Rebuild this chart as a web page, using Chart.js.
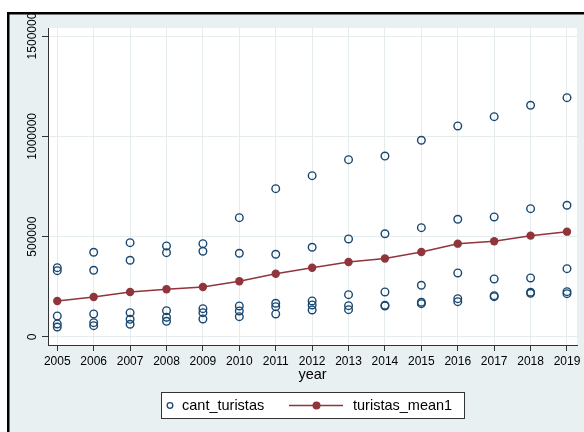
<!DOCTYPE html>
<html>
<head>
<meta charset="utf-8">
<style>
  html, body { margin: 0; padding: 0; background: #ffffff; }
  #wrap { width: 584px; height: 432px; }
</style>
<script src="https://cdn.jsdelivr.net/npm/chart.js@4/dist/chart.umd.min.js"></script>
</head>
<body>
<div id="wrap"><canvas id="c" width="584" height="432"></canvas></div>
<script>
// Tourist arrivals per year, five observations per year plus the yearly mean
const years = [2005, 2006, 2007, 2008, 2009, 2010, 2011, 2012, 2013, 2014, 2015, 2016, 2017, 2018, 2019];

const turistasA = [345400, 422200, 470100, 453700, 465100, 594800, 739300, 804100, 883900, 901800, 980400, 1051800, 1098200, 1155000, 1192900];
const turistasB = [330500, 332500, 382300, 420200, 427200, 417200, 412300, 447100, 488500, 514500, 544800, 586700, 598200, 639500, 656500];
const turistasC = [104700, 114700, 121100, 131100, 141100, 154600, 168000, 179500, 210900, 224400, 257700, 319100, 289100, 294100, 340400];
const turistasD = [64800, 71300, 88200, 98200, 121100, 129600, 151100, 159600, 156000, 158000, 173000, 190900, 205900, 222800, 225800];
const turistasE = [49800, 56300, 63300, 78200, 89800, 101200, 114700, 134600, 136100, 154600, 166000, 176000, 200800, 217800, 215900];

const turistasMean = [179300, 199400, 224300, 237700, 249300, 277700, 315500, 345400, 373900, 390800, 423700, 465100, 477100, 505000, 524900];

const yTicks = [0, 500000, 1000000, 1500000];

const xTitle = 'year';
const scatterLabel = 'cant_turistas';
const meanLabel = 'turistas_mean1';

const NAVY = '#1a476f';
const MAROON = '#90353b';
const BG = '#e8f0f2';
const GRID = '#e4ecee';
const FONT = "'Liberation Sans', Arial, Helvetica, sans-serif";

const scatterPoints = [];
[turistasA, turistasB, turistasC, turistasD, turistasE].forEach(arr => {
  arr.forEach((v, i) => scatterPoints.push({ x: years[i], y: v }));
});
const meanPoints = turistasMean.map((v, i) => ({ x: years[i], y: v }));

const stataFrame = {
  id: 'stataFrame',
  beforeDraw(chart) {
    const ctx = chart.ctx;
    const a = chart.chartArea;
    ctx.save();
    ctx.fillStyle = '#ffffff';
    ctx.fillRect(0, 0, chart.width, chart.height);
    ctx.fillStyle = BG;
    ctx.fillRect(7, 12, chart.width - 7, chart.height - 12);
    ctx.fillStyle = '#000000';
    ctx.fillRect(7, 12, chart.width - 7, 2.5);
    ctx.fillRect(7, 12, 2.5, chart.height - 12);
    ctx.fillStyle = '#ffffff';
    ctx.fillRect(a.left, a.top, a.right - a.left, a.bottom - a.top);
    ctx.restore();
  },
  afterDraw(chart) {
    const ctx = chart.ctx;
    const a = chart.chartArea;
    const ys = chart.scales.y;
    ctx.save();
    // vertical y tick labels
    ctx.fillStyle = '#000000';
    ctx.font = '12px ' + FONT;
    ctx.textAlign = 'center';
    ctx.textBaseline = 'middle';
    ys.ticks.forEach(t => {
      const py = ys.getPixelForValue(t.value);
      ctx.save();
      ctx.translate(33, py);
      ctx.rotate(-Math.PI / 2);
      ctx.fillText(String(t.value), 0, 0);
      ctx.restore();
    });
    // x axis title
    ctx.font = '14.5px ' + FONT;
    ctx.fillText(xTitle, (a.left + a.right) / 2, 375);

    // legend
    const lx = 161.5, ly = 392.5, lw = 303, lh = 26;
    ctx.fillStyle = '#ffffff';
    ctx.fillRect(lx, ly, lw, lh);
    ctx.strokeStyle = '#333333';
    ctx.lineWidth = 1;
    ctx.strokeRect(lx, ly, lw, lh);
    const cy = ly + lh / 2;
    const ds = chart.data.datasets;
    ctx.strokeStyle = NAVY;
    ctx.lineWidth = 1.3;
    ctx.beginPath();
    ctx.arc(170, cy, 2.8, 0, Math.PI * 2);
    ctx.stroke();
    ctx.fillStyle = '#000000';
    ctx.textAlign = 'left';
    ctx.font = '14.5px ' + FONT;
    ctx.fillText(ds[0].label, 182, cy + 0.5);
    ctx.strokeStyle = MAROON;
    ctx.lineWidth = 1.5;
    ctx.beginPath();
    ctx.moveTo(289, cy);
    ctx.lineTo(343, cy);
    ctx.stroke();
    ctx.fillStyle = MAROON;
    ctx.beginPath();
    ctx.arc(316.5, cy, 4, 0, Math.PI * 2);
    ctx.fill();
    ctx.fillStyle = '#000000';
    ctx.fillText(ds[1].label, 353, cy + 0.5);
    ctx.restore();
  }
};

new Chart(document.getElementById('c'), {
  type: 'scatter',
  data: {
    datasets: [
      {
        label: scatterLabel,
        data: scatterPoints,
        showLine: false,
        pointStyle: 'circle',
        pointRadius: 3.8,
        pointBorderWidth: 1.4,
        pointBorderColor: NAVY,
        pointBackgroundColor: 'rgba(0,0,0,0)',
        order: 2
      },
      {
        label: meanLabel,
        data: meanPoints,
        showLine: true,
        borderColor: MAROON,
        borderWidth: 1.5,
        tension: 0,
        pointRadius: 4.2,
        pointBorderWidth: 0,
        pointBackgroundColor: MAROON,
        pointBorderColor: MAROON,
        order: 1
      }
    ]
  },
  options: {
    responsive: false,
    animation: false,
    devicePixelRatio: 1,
    layout: { padding: { top: 28, right: 7, left: 0, bottom: 0 } },
    plugins: {
      legend: { display: false },
      tooltip: { enabled: false }
    },
    scales: {
      x: {
        type: 'linear',
        position: 'bottom',
        min: 2004.745,
        max: 2019.275,
        afterBuildTicks: s => { s.ticks = years.map(v => ({ value: v })); },
        afterFit: s => { s.height = 87; },
        ticks: {
          color: '#000000',
          font: { size: 12, family: FONT },
          padding: 3,
          maxRotation: 0,
          autoSkip: false,
          callback: v => String(v)
        },
        grid: {
          color: GRID,
          lineWidth: 1,
          tickColor: '#333333',
          tickLength: 6,
          drawTicks: true
        },
        border: { display: true, color: '#333333', width: 1 }
      },
      y: {
        type: 'linear',
        position: 'left',
        min: -40000,
        max: 1540000,
        afterBuildTicks: s => { s.ticks = yTicks.map(v => ({ value: v })); },
        afterFit: s => { s.width = 48; },
        ticks: { display: false },
        grid: {
          color: GRID,
          lineWidth: 1,
          tickColor: '#333333',
          tickLength: 6,
          drawTicks: true
        },
        border: { display: true, color: '#333333', width: 1 }
      }
    }
  },
  plugins: [stataFrame]
});
</script>
</body>
</html>
